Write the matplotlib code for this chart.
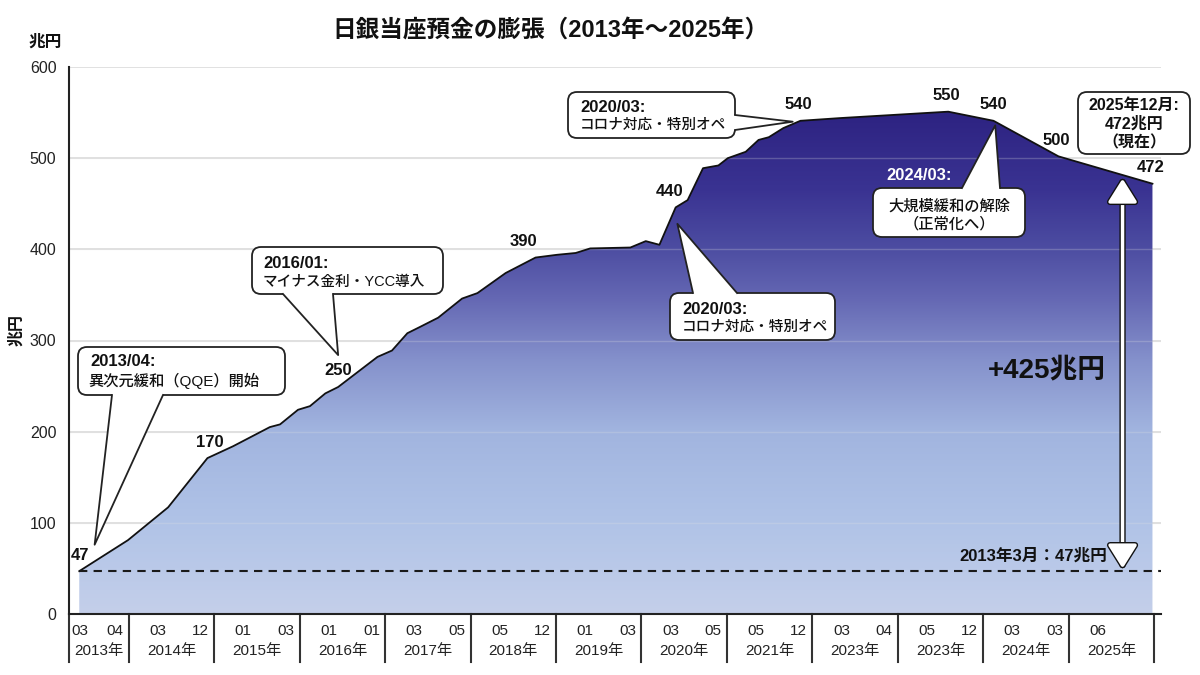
import numpy as np
import matplotlib
matplotlib.use('Agg')
import matplotlib.pyplot as plt
import matplotlib.patheffects as pe
from matplotlib.colors import LinearSegmentedColormap
from matplotlib.patches import Polygon, FancyBboxPatch, FancyArrowPatch
from matplotlib.transforms import Affine2D

plt.rcParams['font.family'] = ['Liberation Sans', 'Noto Sans CJK JP', 'DejaVu Sans']

W, H = 1200, 675

# curve: x in year-block units of the category axis, balance in 兆円
x_pos = [0.12, 0.69, 1.16, 1.62, 1.92, 2.35, 2.47, 2.68, 2.82, 3.00,
         3.15, 3.61, 3.78, 3.96, 4.11, 4.32, 4.60, 4.78, 5.11, 5.46,
         5.71, 5.93, 6.10, 6.57, 6.75, 6.91, 7.10, 7.24, 7.42, 7.60,
         7.71, 7.92, 8.07, 8.19, 8.36, 8.56, 9.03, 10.29, 10.82, 11.58,
         12.68]
balance = [47, 81, 117, 171, 184, 205, 208, 224, 228, 242,
           249, 282, 289, 308, 315, 325, 346, 352, 374, 391,
           394, 396, 401, 402, 409, 405, 446, 454, 489, 492,
           500, 507, 520, 523, 533, 541, 544, 551, 541, 502,
           472]

# labelled points (index into the series) and their label text
label_idx = [0, 3, 10, 19, 26, 35, 37, 38, 39, 40]
label_txt = ['47', '170', '250', '390', '440', '540', '550', '540', '500', '472']

# category axis
years = ['2013年', '2014年', '2015年', '2016年', '2017年', '2018年', '2019年',
         '2020年', '2021年', '2023年', '2023年', '2024年', '2025年']
months = [['03', '04'], ['03', '12'], ['01', '03'], ['01', '01'], ['03', '05'],
          ['05', '12'], ['01', '03'], ['03', '05'], ['05', '12'], ['03', '04'],
          ['05', '12'], ['03', '03'], ['06']]
group_edges = [0.0] + [0.7 + i for i in range(13)]

fig = plt.figure(figsize=(12, 6.75), dpi=100)
ax = fig.add_axes([69 / W, 1 - 614 / H, (1161 - 69) / W, (614 - 67) / H])

# pixel frame (origin top-left) for annotation layout
tr = Affine2D().scale(1 / 100, -1 / 100).translate(0, H / 100) + fig.dpi_scale_trans

# gradient area
cmap = LinearSegmentedColormap.from_list('boj', [
    (0.00, '#c4cfea'), (0.18, '#b0c3e7'), (0.36, '#a1b4df'),
    (0.50, '#8490cb'), (0.62, '#6467b3'), (0.72, '#4c4ca1'),
    (0.83, '#3a3392'), (1.00, '#2c2180')])
grad = np.linspace(0, 1, 512).reshape(-1, 1)
im = ax.imshow(grad, extent=[x_pos[0], x_pos[-1], 0, 560], origin='lower',
               cmap=cmap, aspect='auto', zorder=1, interpolation='bilinear')
verts = [(x_pos[0], 0)] + list(zip(x_pos, balance)) + [(x_pos[-1], 0)]
clip = Polygon(verts, closed=True, transform=ax.transData, fc='none', ec='none')
ax.add_patch(clip)
im.set_clip_path(clip)
ax.plot(x_pos, balance, color='#111111', lw=1.3, zorder=3)

# grid
ax.set_ylim(0, 600)
ax.set_xlim(0, 12.78)
ax.set_yticks(range(0, 601, 100))
ax.yaxis.grid(True, color='#dcdcdc', lw=1.2)
ax.set_axisbelow(True)
for v in range(100, 600, 100):
    ax.axhline(v, color='#e0e0e0', lw=1.0, alpha=0.25, zorder=2)

# baseline dashed
ax.hlines(balance[0], x_pos[0], 12.78, colors='#1a1a1a', linestyles=(0, (4, 3)),
          lw=1.5, zorder=4)

for s in ['top', 'right']:
    ax.spines[s].set_visible(False)
for s in ['left', 'bottom']:
    ax.spines[s].set_color('#222222')
    ax.spines[s].set_linewidth(1.5)
ax.tick_params(axis='y', length=0, pad=9, labelsize=11.5, labelcolor='#222222')
ax.set_xticks([])

# category table under axis
xt = ax.get_xaxis_transform()
for e in group_edges:
    ax.plot([e, e], [0, -0.088], transform=xt, clip_on=False, color='#333333', lw=1.5)
for i, yr in enumerate(years):
    l, r = group_edges[i], group_edges[i + 1]
    ax.text((l + r) / 2, -0.0676, yr, transform=xt, ha='center', va='center',
            fontsize=11, color='#222222')
    ms = months[i]
    ax.text(l + (0.03 if i == 0 else 0.24), -0.031, ms[0], transform=xt,
            ha='left', va='center', fontsize=11, color='#222222')
    if len(ms) > 1:
        ax.text(r - 0.06, -0.031, ms[1], transform=xt, ha='right', va='center',
                fontsize=11, color='#222222')

# value labels
label_dx = [1, 2, 0, -12, -6, -2, -2, 0, -2, -2]
for k, i in enumerate(label_idx):
    ax.annotate(label_txt[k], (x_pos[i], balance[i]),
                xytext=(label_dx[k] * 0.72, 16 * 0.72), textcoords='offset points',
                ha='center', va='center', fontsize=12, fontweight='bold',
                color='#111111', zorder=6)

# arrow showing the increase
x_arrow = 12.33
top = np.interp(x_arrow, x_pos, balance)
arr = FancyArrowPatch((x_arrow, balance[0] + 3), (x_arrow, top - 4),
                      arrowstyle='<|-|>,head_length=0.8,head_width=0.5',
                      mutation_scale=18, color='white', lw=2.5, shrinkA=0, shrinkB=0,
                      zorder=5,
                      path_effects=[pe.Stroke(linewidth=4.5, foreground='#111111'), pe.Normal()])
ax.add_patch(arr)


def to_px(x, y):
    return tr.inverted().transform(ax.transData.transform((x, y)))


def callout(box, base=None, tip=None, side='bottom'):
    x0, y0, x1, y1 = box
    fig.add_artist(FancyBboxPatch((x0, y0), x1 - x0, y1 - y0,
                                  boxstyle='round,pad=0,rounding_size=9',
                                  transform=tr, fc='white', ec='#222222', lw=1.3, zorder=5))
    if base is None:
        return
    tx, ty = to_px(*tip)
    (b1x, b1y), (b2x, b2y) = base
    inset = {'bottom': (0, -2), 'top': (0, 2), 'right': (-2, 0)}[side]
    poly = [(b1x + inset[0], b1y + inset[1]), (b1x, b1y), (tx, ty), (b2x, b2y),
            (b2x + inset[0], b2y + inset[1])]
    fig.add_artist(Polygon(poly, closed=True, transform=tr, fc='white', ec='none', zorder=6))
    fig.add_artist(plt.Line2D([b1x, tx, b2x], [b1y, ty, b2y], transform=tr,
                              color='#222222', lw=1.3, zorder=6))


def txt(x, y, s, weight='bold', size=11.5, ha='left', color='#111111'):
    fig.text(x, y, s, transform=tr, ha=ha, va='center', fontsize=size,
             fontweight=weight, color=color, zorder=7)


jp = 10.5

# 2013/04
callout((78, 347, 285, 395), base=((112, 395), (163, 395)), tip=(0.30, 76))
txt(90, 362, '2013/04:', size=12)
txt(88, 381, '異次元緩和（QQE）開始', weight='medium', size=11)

# 2016/01
callout((252, 247, 443, 294), base=((283, 294), (333, 294)), tip=(3.15, 284))
txt(263, 263, '2016/01:', size=12)
txt(263, 282, 'マイナス金利・YCC導入', weight='medium', size=jp)

# 2020/03 upper
callout((568, 92, 735, 138), base=((735, 115), (735, 130)), tip=(8.47, 540), side='right')
txt(580, 107, '2020/03:', size=12)
txt(580, 125, 'コロナ対応・特別オペ', weight='medium', size=jp)

# 2020/03 lower
callout((670, 293, 835, 340), base=((693, 293), (737, 293)), tip=(7.12, 428), side='top')
txt(682, 309, '2020/03:', size=12)
txt(682, 327, 'コロナ対応・特別オペ', weight='medium', size=jp)

# 2024/03
txt(919, 175, '2024/03:', color='white', size=12, ha='center')
callout((873, 188, 1025, 237), base=((962, 188), (1000, 188)), tip=(10.84, 536), side='top')
txt(949, 206, '大規模緩和の解除', weight='medium', size=11, ha='center')
txt(949, 224, '（正常化へ）', weight='medium', size=11, ha='center')

# current
callout((1078, 92, 1190, 154))
txt(1134, 105, '2025年12月:', ha='center', size=11.5)
txt(1134, 124, '472兆円', ha='center', size=11.5)
txt(1134, 143, '（現在）', ha='center', size=11.5)

txt(1047, 370, '+425兆円', size=20, ha='center')
txt(1107, 556, '2013年3月：47兆円', size=12, ha='right')

# titles and units
txt(550, 30, '日銀当座預金の膨張（2013年～2025年）', size=17, ha='center')
txt(45, 42, '兆円', size=12, ha='center')
fig.text(17, 330, '兆円', transform=tr, rotation=90, ha='center', va='center',
         fontsize=11.5, fontweight='bold', color='#111111')

fig.savefig('out.png', dpi=100, facecolor='white')
